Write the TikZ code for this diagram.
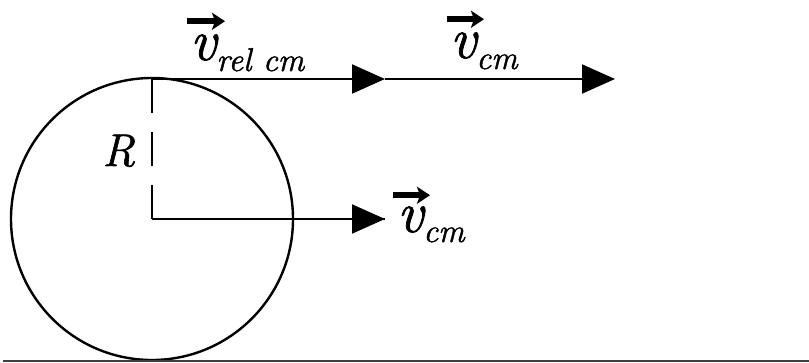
\documentclass[tikz,border=0pt]{standalone}
\usepackage{fontspec}
\newfontfamily\lmit{Latin Modern Roman}[FakeBold=1.3]
\usetikzlibrary{arrows.meta}
\begin{document}
\begin{tikzpicture}[x=1pt,y=-1pt,
  lbl/.style={inner sep=0pt,anchor=base west,font=\lmit\itshape\fontsize{58}{60}\selectfont},
  rlbl/.style={inner sep=0pt,anchor=base west,font=\lmit\itshape\fontsize{46}{50}\selectfont},
  bigarrow/.style={line width=2pt,-{Triangle[length=33pt,width=29pt]}},
  plainline/.style={line width=2pt},
  vecarr/.style={line width=6pt,-{Stealth[length=13pt,width=17pt,inset=3pt]}},
  wheel/.style={line width=2.4pt},
  radius line/.style={line width=2.4pt,dash pattern=on 34pt off 19pt},
  groundline/.style={line width=1.5pt,black!75}
]
\useasboundingbox (0,0) rectangle (809,362);
\coordinate (top) at (152,79);
\coordinate (ctr) at (152,219);
\coordinate (m1) at (385,79);
\coordinate (m2) at (615,79);
\coordinate (m3) at (385,219);
\coordinate (g1) at (3,361);
\coordinate (g2) at (809,361);

\draw[wheel] (ctr) circle (141);
\draw[radius line] (top) -- (ctr);
\draw[plainline] (ctr) -- (m3);
\draw[bigarrow] (ctr) -- (m3);
\draw[bigarrow] (top) -- (m1);
\draw[bigarrow] (m1) -- (m2);
\draw[groundline] (g1) -- (g2);

\node[rlbl] (R) at (102,166) {R};
\node[lbl] (L1) at (190,60) {v\raisebox{-11pt}{\fontsize{33}{36}\selectfont rel cm}};
\node[lbl] (L2) at (450,58) {v\raisebox{-11pt}{\fontsize{33}{36}\selectfont cm}};
\node[lbl] (L3) at (397,232) {v\raisebox{-10pt}{\fontsize{33}{36}\selectfont cm}};

\draw[vecarr] ([xshift=-3pt,yshift=13pt]L1.north west) -- ++(38,0);
\draw[vecarr] ([xshift=-3pt,yshift=13pt]L2.north west) -- ++(37,0);
\draw[vecarr] ([xshift=-4pt,yshift=11pt]L3.north west) -- ++(37,0);
\end{tikzpicture}
\end{document}
